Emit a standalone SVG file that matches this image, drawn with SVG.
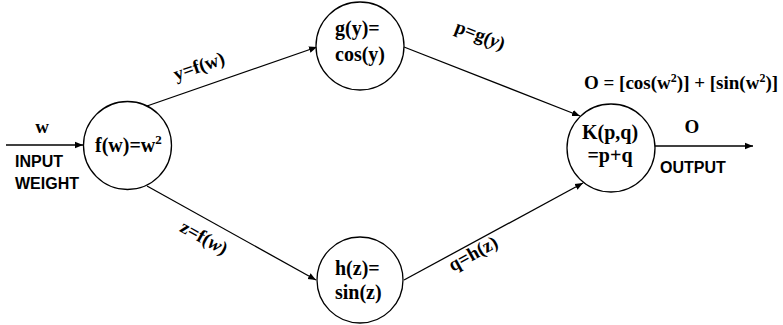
<svg xmlns="http://www.w3.org/2000/svg" width="783" height="325" viewBox="0 0 783 325">
<defs>
<style>
.node{fill:#fff;stroke:#000;stroke-width:1.3}
.edge{fill:none;stroke:#000;stroke-width:1.3;marker-end:url(#arr)}
.t{font-family:"Liberation Serif","Times New Roman",serif;font-weight:bold;font-size:20px;fill:#000}
.l{font-family:"Liberation Serif","Times New Roman",serif;font-weight:bold;font-size:19px;fill:#000}
.s{font-family:"Liberation Sans",Arial,sans-serif;font-weight:bold;font-size:16px;fill:#000}
</style>
<marker id="arr" viewBox="0 0 10 10" refX="10" refY="5" markerWidth="8" markerHeight="8" orient="auto" markerUnits="userSpaceOnUse">
<path d="M0,1 L10,5 L0,9 z" fill="#000"/>
</marker>
</defs>
<g id="connectors">
<line class="edge" x1="6" y1="145" x2="83" y2="145"/>
<line class="edge" x1="147" y1="106" x2="317" y2="47"/>
<line class="edge" x1="147" y1="186" x2="316" y2="280"/>
<line class="edge" x1="404" y1="47" x2="580" y2="116"/>
<line class="edge" x1="404" y1="280" x2="583" y2="183"/>
<line class="edge" x1="655" y1="146" x2="753" y2="146"/>
<text class="l" transform="translate(201,72) rotate(-19)" text-anchor="middle">y=f(w)</text>
<text class="l" transform="translate(201,243) rotate(29)" text-anchor="middle">z=f(<tspan font-style="italic">w</tspan>)</text>
<text class="l" transform="translate(478,41) rotate(21)" text-anchor="middle">p=g(<tspan font-style="italic">y</tspan>)</text>
<text class="l" transform="translate(476,259) rotate(-29)" text-anchor="middle">q=h(z)</text>
</g>
<g id="input">
<text class="l" x="42" y="133" text-anchor="middle">w</text>
<text class="s" x="15" y="167">INPUT</text>
<text class="s" x="15" y="189">WEIGHT</text>
</g>
<g id="node-f">
<circle class="node" cx="127.5" cy="145.5" r="44"/>
<text class="t" x="95" y="152">f(w)=w<tspan font-size="13" dy="-8">2</tspan></text>
</g>
<g id="node-g">
<circle class="node" cx="360" cy="46" r="44"/>
<text class="t" x="335" y="35">g(y)=</text>
<text class="t" x="335" y="61">cos(y)</text>
</g>
<g id="node-h">
<circle class="node" cx="360" cy="280" r="43"/>
<text class="t" x="335" y="275">h(z)=</text>
<text class="t" x="335" y="299">sin(z)</text>
</g>
<g id="node-k">
<circle class="node" cx="611" cy="148" r="44"/>
<text class="t" x="610" y="139" text-anchor="middle">K(p,q)</text>
<text class="t" x="610" y="162" text-anchor="middle">=p+q</text>
</g>
<g id="output">
<text class="l" x="692" y="133" text-anchor="middle">O</text>
<text class="s" x="660" y="173">OUTPUT</text>
<text class="l" x="584" y="89">O = [cos(w<tspan font-size="12" dy="-7">2</tspan><tspan dy="7">)] + [sin(w</tspan><tspan font-size="12" dy="-7">2</tspan><tspan dy="7">)]</tspan></text>
</g>
</svg>
